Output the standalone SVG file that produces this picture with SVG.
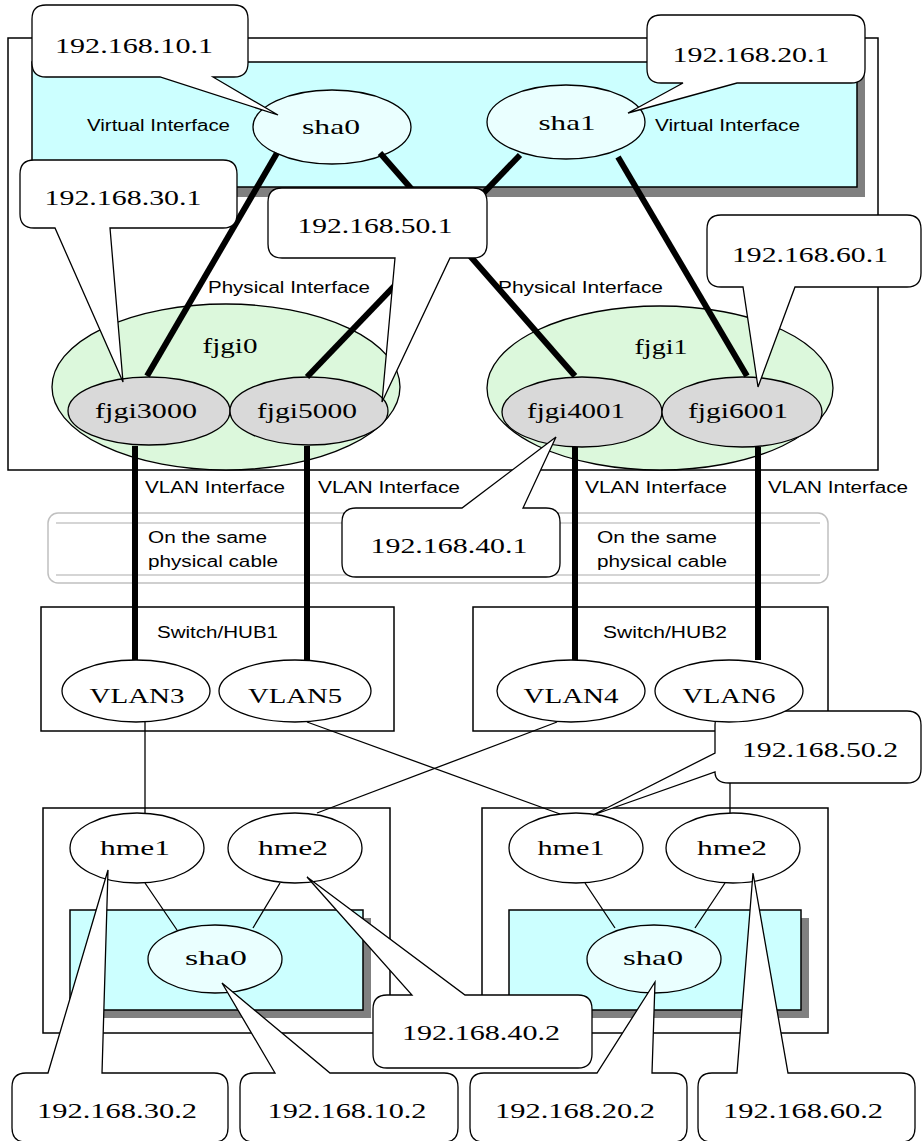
<svg xmlns="http://www.w3.org/2000/svg" width="922" height="1141" viewBox="0 0 922 1141">
<style>
.box{fill:#fff;stroke:#000;stroke-width:1.5}
.cy{fill:#ccffff;stroke:#000;stroke-width:1.5}
.sh{fill:#808080}
.va{fill:#eaffff;stroke:#000;stroke-width:1.3}
.gr{fill:#dcf8dc;stroke:#000;stroke-width:1.3}
.gy{fill:#d9d9d9;stroke:#000;stroke-width:1.3}
.wh{fill:#fff;stroke:#000;stroke-width:1.3}
.co{fill:#fff;stroke:#000;stroke-width:1.3}
.thick{stroke:#000;stroke-width:6;fill:none}
.thin{stroke:#000;stroke-width:1.3;fill:none}
.pipe{fill:#fff;stroke:#c0c0c0;stroke-width:1.5}
.pl{fill:none;stroke:#c8c8c8;stroke-width:1.3}
.sf{font-family:"Liberation Serif",serif;font-size:22px;text-anchor:middle;fill:#000}
.ss{font-family:"Liberation Sans",sans-serif;font-size:16px;fill:#000}
</style>
<rect width="922" height="1141" fill="#fff"/>

<g id="server">
<rect class="box" x="8" y="38" width="870" height="432"/>
<rect class="sh" x="40" y="70" width="825" height="127"/>
<rect class="cy" x="32" y="62" width="825" height="125"/>
<text class="ss" x="87" y="131" textLength="143" lengthAdjust="spacingAndGlyphs">Virtual Interface</text>
<text class="ss" x="655" y="131" textLength="145" lengthAdjust="spacingAndGlyphs">Virtual Interface</text>
<text class="ss" x="208" y="293" textLength="162" lengthAdjust="spacingAndGlyphs">Physical Interface</text>
<text class="ss" x="498" y="293" textLength="165" lengthAdjust="spacingAndGlyphs">Physical Interface</text>
</g>

<g id="sha0-top">
<ellipse class="va" cx="332" cy="127" rx="79" ry="37"/>
<text class="sf" x="331" y="134" textLength="58" lengthAdjust="spacingAndGlyphs">sha0</text>
</g>
<g id="sha1-top">
<ellipse class="va" cx="566" cy="122" rx="79" ry="37"/>
<text class="sf" x="567" y="130" textLength="57" lengthAdjust="spacingAndGlyphs">sha1</text>
</g>

<g id="fjgi0">
<ellipse class="gr" cx="226" cy="387" rx="174" ry="83"/>
<text class="sf" x="230" y="353" textLength="55" lengthAdjust="spacingAndGlyphs">fjgi0</text>
</g>
<g id="fjgi1">
<ellipse class="gr" cx="660" cy="388" rx="173" ry="82"/>
<text class="sf" x="661" y="354" textLength="53" lengthAdjust="spacingAndGlyphs">fjgi1</text>
</g>
<g id="fjgi3000">
<ellipse class="gy" cx="149" cy="411" rx="81" ry="34"/>
<text class="sf" x="146" y="418" textLength="102" lengthAdjust="spacingAndGlyphs">fjgi3000</text>
</g>
<g id="fjgi5000">
<ellipse class="gy" cx="309" cy="411" rx="79" ry="34"/>
<text class="sf" x="307" y="418" textLength="100" lengthAdjust="spacingAndGlyphs">fjgi5000</text>
</g>
<g id="fjgi4001">
<ellipse class="gy" cx="582" cy="412" rx="80" ry="35"/>
<text class="sf" x="576" y="418" textLength="98" lengthAdjust="spacingAndGlyphs">fjgi4001</text>
</g>
<g id="fjgi6001">
<ellipse class="gy" cx="742" cy="412" rx="80" ry="35"/>
<text class="sf" x="738" y="418" textLength="100" lengthAdjust="spacingAndGlyphs">fjgi6001</text>
</g>

<g id="cable">
<rect class="pipe" x="48" y="513" width="780" height="70" rx="10" ry="10"/>
<path class="pl" d="M56,523 H820 M56,575 H820"/>
<text class="ss" x="148" y="543" textLength="119" lengthAdjust="spacingAndGlyphs">On the same</text>
<text class="ss" x="148" y="567" textLength="130" lengthAdjust="spacingAndGlyphs">physical cable</text>
<text class="ss" x="597" y="543" textLength="120" lengthAdjust="spacingAndGlyphs">On the same</text>
<text class="ss" x="597" y="567" textLength="130" lengthAdjust="spacingAndGlyphs">physical cable</text>
</g>

<g id="vlan-labels">
<text class="ss" x="145" y="493" textLength="140" lengthAdjust="spacingAndGlyphs">VLAN Interface</text>
<text class="ss" x="318" y="493" textLength="142" lengthAdjust="spacingAndGlyphs">VLAN Interface</text>
<text class="ss" x="585" y="493" textLength="142" lengthAdjust="spacingAndGlyphs">VLAN Interface</text>
<text class="ss" x="768" y="493" textLength="140" lengthAdjust="spacingAndGlyphs">VLAN Interface</text>
</g>

<g id="switch1">
<rect class="box" x="41" y="607" width="353" height="124"/>
<text class="ss" x="157" y="638" textLength="121" lengthAdjust="spacingAndGlyphs">Switch/HUB1</text>
<ellipse class="wh" cx="136" cy="691" rx="74" ry="31"/>
<text class="sf" x="137" y="703" textLength="95" lengthAdjust="spacingAndGlyphs">VLAN3</text>
<ellipse class="wh" cx="295" cy="691" rx="76" ry="31"/>
<text class="sf" x="295" y="703" textLength="94" lengthAdjust="spacingAndGlyphs">VLAN5</text>
</g>
<g id="switch2">
<rect class="box" x="473" y="607" width="355" height="124"/>
<text class="ss" x="603" y="638" textLength="124" lengthAdjust="spacingAndGlyphs">Switch/HUB2</text>
<ellipse class="wh" cx="571" cy="691" rx="74" ry="31"/>
<text class="sf" x="571" y="703" textLength="95" lengthAdjust="spacingAndGlyphs">VLAN4</text>
</g>

<g id="host1">
<rect class="box" x="43" y="808" width="347" height="225"/>
<rect class="sh" x="78" y="918" width="293" height="100"/>
<rect class="cy" x="70" y="910" width="293" height="100"/>
</g>
<g id="host2">
<rect class="box" x="482" y="808" width="346" height="225"/>
<rect class="sh" x="517" y="918" width="292" height="100"/>
<rect class="cy" x="509" y="910" width="292" height="100"/>
</g>

<g id="connectors">
<path class="thick" d="M277,153 L147,376"/>
<path class="thick" d="M380,153 L575,376"/>
<path class="thick" d="M520,155 L307,377"/>
<path class="thick" d="M618,157 L747,376"/>
<path class="thick" d="M135,446 V660 M307,446 V660 M575,447 V660 M758,447 V660"/>
<path class="thin" d="M145,722 V813"/>
<path class="thin" d="M307,722 L560,814"/>
<path class="thin" d="M557,722 L317,813"/>
<path class="thin" d="M730,722 V814"/>
<path class="thin" d="M145,883 L177,930 M280,883 L253,928 M585,883 L615,928 M725,883 L695,928"/>
</g>

<g id="host1-nodes">
<ellipse class="wh" cx="137" cy="848" rx="67" ry="35"/>
<text class="sf" x="135" y="855" textLength="70" lengthAdjust="spacingAndGlyphs">hme1</text>
<ellipse class="wh" cx="295" cy="848" rx="67" ry="35"/>
<text class="sf" x="293" y="855" textLength="70" lengthAdjust="spacingAndGlyphs">hme2</text>
<ellipse class="va" cx="215" cy="959" rx="67" ry="34"/>
<text class="sf" x="216" y="965" textLength="62" lengthAdjust="spacingAndGlyphs">sha0</text>
</g>
<g id="host2-nodes">
<ellipse class="wh" cx="576" cy="848" rx="67" ry="35"/>
<text class="sf" x="571" y="855" textLength="67" lengthAdjust="spacingAndGlyphs">hme1</text>
<ellipse class="wh" cx="733" cy="848" rx="67" ry="35"/>
<text class="sf" x="732" y="855" textLength="70" lengthAdjust="spacingAndGlyphs">hme2</text>
<ellipse class="va" cx="654" cy="959" rx="67" ry="34"/>
<text class="sf" x="653" y="965" textLength="60" lengthAdjust="spacingAndGlyphs">sha0</text>
</g>

<g id="callouts">
<g id="c-10-1">
<path class="co" d="M46,5 H234 Q248,5 248,19 V63 Q248,77 234,77 H213 L278,115 L160,77 H46 Q32,77 32,63 V19 Q32,5 46,5 Z"/>
<text class="sf" x="134" y="53" textLength="158" lengthAdjust="spacingAndGlyphs">192.168.10.1</text>
</g>
<g id="c-20-1">
<path class="co" d="M661,15 H851 Q865,15 865,29 V69 Q865,83 851,83 H737 L628,113 L683,83 H661 Q647,83 647,69 V29 Q647,15 661,15 Z"/>
<text class="sf" x="751" y="62" textLength="157" lengthAdjust="spacingAndGlyphs">192.168.20.1</text>
</g>
<g id="c-30-1">
<path class="co" d="M34,160 H223 Q237,160 237,174 V214 Q237,228 223,228 H110 L123,382 L55,228 H34 Q20,228 20,214 V174 Q20,160 34,160 Z"/>
<text class="sf" x="123" y="205" textLength="157" lengthAdjust="spacingAndGlyphs">192.168.30.1</text>
</g>
<g id="c-50-1">
<path class="co" d="M282,188 H473 Q487,188 487,202 V244 Q487,258 473,258 H450 L382,402 L395,258 H282 Q268,258 268,244 V202 Q268,188 282,188 Z"/>
<text class="sf" x="375" y="233" textLength="155" lengthAdjust="spacingAndGlyphs">192.168.50.1</text>
</g>
<g id="c-60-1">
<path class="co" d="M721,215 H907 Q921,215 921,229 V273 Q921,287 907,287 H795 L758,387 L743,287 H721 Q707,287 707,273 V229 Q707,215 721,215 Z"/>
<text class="sf" x="810" y="262" textLength="156" lengthAdjust="spacingAndGlyphs">192.168.60.1</text>
</g>
<g id="c-40-1">
<path class="co" d="M356,508 H462 L556,437 L523,508 H546 Q560,508 560,522 V563 Q560,577 546,577 H356 Q342,577 342,563 V522 Q342,508 356,508 Z"/>
<text class="sf" x="449" y="553" textLength="157" lengthAdjust="spacingAndGlyphs">192.168.40.1</text>
</g>
<g id="c-50-2">
<path class="co" d="M729,711 H907 Q921,711 921,725 V769 Q921,783 907,783 H729 Q715,783 715,772 L593,815 L715,753 V725 Q715,711 729,711 Z"/>
<text class="sf" x="820" y="757" textLength="156" lengthAdjust="spacingAndGlyphs">192.168.50.2</text>
</g>
<g id="c-40-2">
<path class="co" d="M387,995 H412 L307,877 L465,995 H578 Q592,995 592,1009 V1054 Q592,1068 578,1068 H387 Q373,1068 373,1054 V1009 Q373,995 387,995 Z"/>
<text class="sf" x="481" y="1040" textLength="158" lengthAdjust="spacingAndGlyphs">192.168.40.2</text>
</g>
<g id="c-30-2">
<path class="co" d="M26,1073 H48 L108,870 L102,1073 H214 Q228,1073 228,1087 V1128 Q228,1142 214,1142 H26 Q12,1142 12,1128 V1087 Q12,1073 26,1073 Z"/>
<text class="sf" x="117" y="1118" textLength="160" lengthAdjust="spacingAndGlyphs">192.168.30.2</text>
</g>
<g id="c-10-2">
<path class="co" d="M254,1073 H275 L222,983 L330,1073 H444 Q458,1073 458,1087 V1128 Q458,1142 444,1142 H254 Q240,1142 240,1128 V1087 Q240,1073 254,1073 Z"/>
<text class="sf" x="347" y="1118" textLength="159" lengthAdjust="spacingAndGlyphs">192.168.10.2</text>
</g>
<g id="c-20-2">
<path class="co" d="M484,1073 H597 L655,982 L652,1073 H673 Q687,1073 687,1087 V1128 Q687,1142 673,1142 H484 Q470,1142 470,1128 V1087 Q470,1073 484,1073 Z"/>
<text class="sf" x="575" y="1118" textLength="160" lengthAdjust="spacingAndGlyphs">192.168.20.2</text>
</g>
<g id="c-60-2">
<path class="co" d="M712,1073 H737 L753,873 L788,1073 H901 Q915,1073 915,1087 V1128 Q915,1142 901,1142 H712 Q698,1142 698,1128 V1087 Q698,1073 712,1073 Z"/>
<text class="sf" x="803" y="1118" textLength="160" lengthAdjust="spacingAndGlyphs">192.168.60.2</text>
</g>
</g>

<g id="vlan6">
<ellipse class="wh" cx="729" cy="691" rx="74" ry="31"/>
<text class="sf" x="729" y="703" textLength="93" lengthAdjust="spacingAndGlyphs">VLAN6</text>
</g>
</svg>
